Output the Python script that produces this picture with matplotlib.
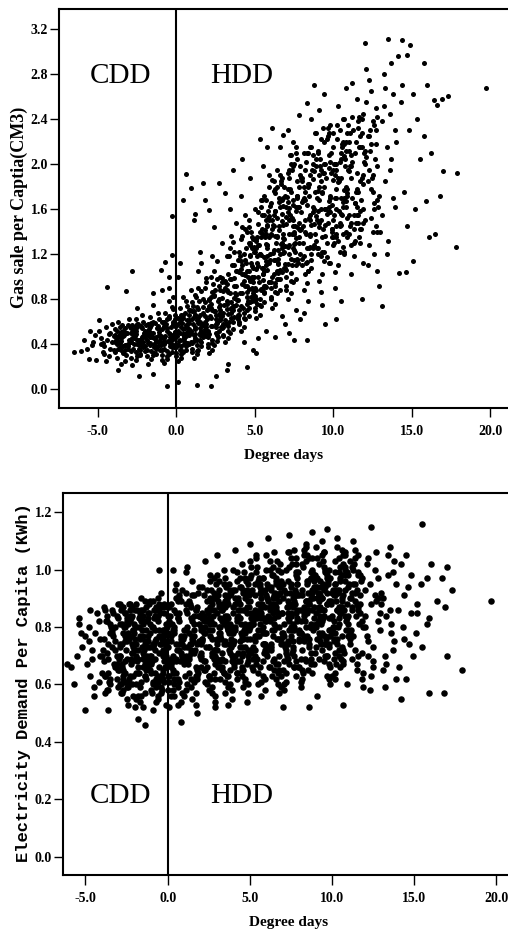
import sys
import matplotlib
matplotlib.use("Agg")
import matplotlib.pyplot as plt

# ---------------- data: gas sale per capita vs degree days ----------------
gas_x = [
    -6.5,-6.1,-5.9,-5.5,-5.4,-5.6,-5.1,-5.2,-5.7,-5.3,
    -4.9,-4.4,-4.8,-4.6,-4.2,-4.1,-4.7,-4.5,-4.3,-4.0,
    -4.8,-4.6,-4.4,-4.2,-4.9,-4.1,-4.5,-4.3,-4.7,-4.0,
    -3.7,-3.2,-3.9,-3.5,-3.1,-3.8,-3.4,-3.6,-3.3,-3.0,
    -3.9,-3.7,-3.5,-3.2,-3.8,-3.4,-3.1,-3.6,-3.3,-3.9,
    -3.5,-3.2,-3.7,-3.0,-3.4,-3.8,-3.1,-3.6,-3.3,-3.5,
    -2.8,-2.4,-2.9,-2.5,-2.1,-2.7,-2.3,-2.6,-2.2,-2.0,
    -2.9,-2.7,-2.5,-2.3,-2.1,-2.8,-2.6,-2.4,-2.2,-2.0,
    -2.9,-2.6,-2.3,-2.8,-2.5,-2.2,-2.7,-2.4,-2.1,-2.0,
    -2.8,-2.6,-2.4,-2.2,-2.9,-2.7,-2.5,-2.3,-2.1,-2.6,
    -1.5,-1.5,-1.9,-1.6,-1.2,-1.8,-1.4,-1.7,-1.3,-1.1,
    -1.9,-1.7,-1.5,-1.3,-1.1,-1.8,-1.6,-1.4,-1.2,-1.0,
    -1.9,-1.6,-1.3,-1.8,-1.5,-1.2,-1.7,-1.4,-1.1,-1.0,
    -1.8,-1.6,-1.4,-1.2,-1.9,-1.7,-1.5,-1.3,-1.1,-1.6,
    -0.6,-0.9,-0.3,-0.7,-0.3,-1.0,-0.5,-0.5,-0.8,-0.2,
    -0.9,-0.7,-0.5,-0.3,-0.1,-0.8,-0.6,-0.4,-0.2,-0.0,
    -0.9,-0.6,-0.3,-0.8,-0.5,-0.2,-0.7,-0.4,-0.1,-0.0,
    -0.8,-0.6,-0.4,-0.2,-0.9,-0.7,-0.5,-0.3,-0.1,-0.6,
    -0.9,-0.5,-0.2,-0.7,-0.4,-0.1,-0.8,-0.3,-0.6,-0.2,
    0.1,0.6,0.4,0.9,0.2,0.1,0.5,0.3,0.7,0.8,
    0.0,0.2,0.4,0.6,0.8,0.1,0.3,0.5,0.7,0.9,
    0.0,0.3,0.6,0.1,0.4,0.7,0.2,0.5,0.8,0.9,
    0.1,0.3,0.5,0.7,0.0,0.2,0.4,0.6,0.8,0.3,
    0.0,0.4,0.7,0.2,0.5,0.8,0.1,0.6,0.3,0.9,
    1.3,1.2,1.7,1.8,1.1,1.5,1.4,1.9,1.6,1.2,
    1.0,1.2,1.4,1.6,1.8,1.1,1.3,1.5,1.7,1.9,
    1.0,1.3,1.6,1.1,1.4,1.7,1.2,1.5,1.8,1.9,
    1.1,1.3,1.5,1.7,1.0,1.2,1.4,1.6,1.8,1.3,
    1.0,1.4,1.7,1.2,1.5,1.8,1.1,1.6,1.3,1.9,
    2.2,2.1,2.7,2.4,2.5,2.9,2.3,2.6,2.8,2.0,
    2.0,2.2,2.4,2.6,2.8,2.1,2.3,2.5,2.7,2.9,
    2.0,2.3,2.6,2.1,2.4,2.7,2.2,2.5,2.8,2.9,
    2.1,2.3,2.5,2.7,2.0,2.2,2.4,2.6,2.8,2.3,
    2.0,2.4,2.7,2.2,2.5,2.8,2.1,2.6,2.3,2.9,
    3.2,3.1,3.6,3.4,3.8,3.3,3.5,3.7,3.9,3.0,
    3.0,3.2,3.4,3.6,3.8,3.1,3.3,3.5,3.7,3.9,
    3.0,3.3,3.6,3.1,3.4,3.7,3.2,3.5,3.8,3.9,
    3.1,3.3,3.5,3.7,3.0,3.2,3.4,3.6,3.8,3.3,
    3.0,3.4,3.7,3.2,3.5,3.8,3.1,3.6,3.3,3.9,
    4.5,4.2,4.7,4.1,4.9,4.4,4.6,4.3,4.8,4.0,
    4.0,4.2,4.4,4.6,4.8,4.1,4.3,4.5,4.7,4.9,
    4.0,4.3,4.6,4.1,4.4,4.7,4.2,4.5,4.8,4.9,
    4.1,4.3,4.5,4.7,4.0,4.2,4.4,4.6,4.8,4.3,
    4.0,4.4,4.7,4.2,4.5,4.8,4.1,4.6,4.3,4.9,
    5.1,5.3,5.8,5.5,5.2,5.9,5.4,5.7,5.6,5.0,
    5.0,5.2,5.4,5.6,5.8,5.1,5.3,5.5,5.7,5.9,
    5.0,5.3,5.6,5.1,5.4,5.7,5.2,5.5,5.8,5.9,
    5.1,5.3,5.5,5.7,5.0,5.2,5.4,5.6,5.8,5.3,
    5.0,5.4,5.7,5.2,5.5,5.8,5.1,5.6,5.3,5.9,
    6.3,6.8,6.6,6.1,6.4,6.9,6.2,6.7,6.5,6.0,
    6.0,6.2,6.4,6.6,6.8,6.1,6.3,6.5,6.7,6.9,
    6.0,6.3,6.6,6.1,6.4,6.7,6.2,6.5,6.8,6.9,
    6.1,6.3,6.5,6.7,6.0,6.2,6.4,6.6,6.8,6.3,
    6.0,6.4,6.7,6.2,6.5,6.8,6.1,6.6,6.3,6.9,
    7.2,7.5,7.8,7.1,7.4,7.9,7.3,7.6,7.7,7.0,
    7.0,7.2,7.4,7.6,7.8,7.1,7.3,7.5,7.7,7.9,
    7.0,7.3,7.6,7.1,7.4,7.7,7.2,7.5,7.8,7.9,
    7.1,7.3,7.5,7.7,7.0,7.2,7.4,7.6,7.8,7.3,
    7.0,7.4,7.7,7.2,7.5,7.8,7.1,7.6,7.3,7.9,
    8.3,8.8,8.3,8.6,8.1,8.9,8.4,8.7,8.2,8.5,
    8.0,8.2,8.4,8.6,8.8,8.1,8.3,8.5,8.7,8.9,
    8.0,8.3,8.6,8.1,8.4,8.7,8.2,8.5,8.8,8.9,
    8.1,8.3,8.5,8.7,8.0,8.2,8.4,8.6,8.8,8.5,
    9.4,9.5,9.1,9.8,9.3,9.6,9.2,9.9,9.7,9.0,
    9.0,9.2,9.4,9.6,9.8,9.1,9.3,9.5,9.7,9.9,
    9.0,9.3,9.6,9.1,9.4,9.7,9.2,9.5,9.8,9.9,
    9.1,9.3,9.5,9.7,9.0,9.2,9.4,9.6,9.8,9.5,
    10.2,10.5,10.8,10.3,10.6,10.1,10.9,10.4,10.7,10.0,
    10.0,10.2,10.4,10.6,10.8,10.1,10.3,10.5,10.7,10.9,
    10.0,10.3,10.6,10.1,10.4,10.7,10.2,10.5,10.8,10.9,
    10.1,10.3,10.5,10.7,10.0,10.2,10.4,10.6,10.8,10.5,
    11.8,12.0,11.2,11.5,11.9,11.1,11.6,11.3,11.7,11.0,
    11.0,11.2,11.4,11.6,11.8,11.1,11.3,11.5,11.7,11.9,
    11.0,11.3,11.6,11.1,11.4,11.7,11.2,11.5,11.8,11.9,
    12.1,12.4,12.7,12.2,12.5,12.8,12.3,12.6,12.9,12.0,
    12.0,12.2,12.4,12.6,12.8,12.1,12.3,12.5,12.7,12.9,
    12.3,12.6,12.1,12.8,12.4,
    13.1,13.5,13.2,13.8,13.4,13.6,13.1,13.9,13.3,13.7,
    13.0,13.4,13.8,13.2,13.6,13.5,13.3,13.9,13.1,13.7,
    14.4,14.9,14.7,14.1,14.6,14.2,14.3,14.8,14.5,14.0,14.7,14.4,
    15.8,16.0,16.4,16.6,16.9,17.3,17.9,17.0,16.8,17.8,
    15.9,16.5,16.1,15.1,19.7,15.3,15.5,15.2,15.8,16.2,15.1,
]
gas_y = [
    .33,.34,.44,.52,.39,.27,.26,.48,.36,.42,
    .61,.91,.45,.38,.50,.42,.33,.55,.29,.47,
    .40,.31,.44,.36,.52,.58,.25,.49,.41,.35,
    .17,.87,.42,.51,.36,.28,.47,.55,.39,.44,
    .33,.60,.45,.30,.52,.38,.57,.41,.25,.48,
    .35,.50,.43,.62,.32,.46,.40,.37,.54,.22,
    1.05,.12,.42,.55,.37,.48,.31,.62,.45,.52,
    .28,.40,.58,.35,.47,.51,.26,.43,.66,.38,
    .50,.33,.44,.57,.29,.41,.53,.36,.60,.46,
    .21,.49,.39,.54,.34,.45,.72,.30,.42,.56,
    .13,.85,.44,.57,.38,.49,.32,.64,.46,.53,
    .29,.41,.60,.36,.48,.52,.27,.45,.68,.39,
    .51,.34,.43,.58,.30,.42,.55,.37,.62,.47,
    .22,.50,.40,.56,.35,.46,.75,.31,.43,.59,
    .03,.88,1.54,1.13,1.19,1.06,1.00,.90,.45,.60,
    .30,.42,.63,.37,.51,.55,.27,.46,.71,.40,
    .53,.34,.44,.60,.31,.48,.57,.38,.66,.49,
    .23,.52,.41,.58,.35,.47,.78,.33,.45,.62,
    .26,.50,.39,.68,.43,.56,.36,.73,.29,.82,
    .06,1.91,1.68,1.79,1.12,1.00,.47,.62,.55,.40,
    .32,.44,.66,.38,.53,.58,.28,.49,.74,.42,
    .56,.35,.47,.63,.33,.51,.60,.40,.70,.52,
    .25,.55,.43,.61,.37,.50,.82,.35,.48,.66,
    .29,.53,.41,.72,.45,.59,.39,.78,.31,.88,
    .04,1.56,1.83,1.68,1.50,1.22,1.05,.95,.58,.45,
    .36,.49,.71,.42,.60,.64,.31,.54,.80,.47,
    .62,.39,.52,.69,.35,.57,.66,.44,.77,.58,
    .28,.61,.48,.68,.41,.55,.90,.38,.53,.73,
    .33,.59,.46,.84,.50,.65,.43,1.12,.34,.99,
    .03,1.59,1.83,1.44,.12,1.30,1.18,.98,.70,.52,
    .40,.56,.83,.48,.68,.74,.35,.62,.92,.54,
    .71,.44,.60,.79,.39,.66,.76,.50,.88,.65,
    .32,.70,.55,.80,.46,.63,1.05,.43,.61,.86,
    .37,.69,.52,1.00,.58,.75,.49,1.14,.41,.95,
    .17,1.74,1.95,1.60,1.48,.22,1.36,1.22,.62,.48,
    .55,.71,.98,.60,.84,.90,.45,.77,1.10,.66,
    .87,.56,.74,.96,.50,.81,.93,.63,1.05,.79,
    .42,.86,.68,.99,.58,.78,1.25,.53,.75,1.02,
    .47,.85,.64,1.18,.72,.92,.61,1.31,.52,1.15,
    .20,2.05,1.88,1.72,.35,1.55,1.44,.42,.78,.60,
    .66,.85,1.15,.72,1.00,1.07,.55,.92,1.30,.80,
    1.04,.68,.89,1.14,.62,.97,1.10,.76,1.25,.95,
    .52,1.02,.82,1.18,.70,.93,1.42,.65,.90,1.20,
    .58,1.01,.77,1.36,.86,1.09,.74,1.50,.63,1.33,
    .32,2.22,2.15,1.98,.45,1.80,1.68,.52,.92,.72,
    .78,1.00,1.35,.85,1.18,1.25,.66,1.08,1.50,.95,
    1.22,.80,1.05,1.33,.74,1.14,1.28,.90,1.46,1.12,
    .63,1.20,.97,1.38,.83,1.09,1.62,.77,1.06,1.40,
    .69,1.19,.91,1.57,1.02,1.28,.88,1.72,.75,1.54,
    .46,2.26,2.15,2.32,1.95,.58,1.85,.65,1.05,.82,
    .90,1.15,1.52,.98,1.34,1.42,.76,1.24,1.68,1.08,
    1.38,.92,1.20,1.50,.85,1.30,1.45,1.03,1.63,1.27,
    .72,1.36,1.11,1.56,.95,1.24,1.80,.88,1.21,1.58,
    .80,1.35,1.04,1.76,1.16,1.46,1.00,1.90,.86,1.72,
    .50,.44,2.44,2.30,2.20,.62,2.08,.70,1.15,.92,
    1.00,1.28,1.68,1.10,1.48,1.57,.85,1.38,1.85,1.20,
    1.53,1.03,1.34,1.66,.95,1.44,1.61,1.15,1.80,1.41,
    .80,1.51,1.24,1.72,1.06,1.38,1.98,.98,1.35,1.75,
    .88,1.50,1.16,1.95,1.29,1.62,1.11,2.10,.96,1.90,
    .44,2.70,2.54,2.40,.68,2.28,.78,1.25,1.02,2.15,
    1.10,1.40,1.82,1.20,1.60,1.70,.94,1.50,2.00,1.32,
    1.66,1.13,1.46,1.80,1.05,1.57,1.75,1.26,1.94,1.54,
    .88,1.64,1.36,1.87,1.16,1.50,2.10,1.08,1.47,1.90,
    2.62,.58,2.48,2.35,.75,2.22,.86,1.35,1.12,2.10,
    1.20,1.50,1.92,1.30,1.70,1.80,1.02,1.60,2.08,1.42,
    1.76,1.22,1.56,1.90,1.14,1.67,1.85,1.36,2.02,1.64,
    .96,1.74,1.46,1.97,1.25,1.60,2.20,1.17,1.57,2.00,
    .62,.78,2.68,2.52,2.40,.90,2.28,1.45,1.20,2.15,
    1.28,1.60,2.02,1.38,1.80,1.90,1.10,1.70,2.18,1.52,
    1.86,1.32,1.66,2.00,1.22,1.77,1.95,1.46,2.12,1.74,
    1.04,1.84,1.56,2.07,1.35,1.70,2.30,1.26,1.67,2.10,
    .80,3.08,2.72,2.58,2.45,1.02,2.32,1.55,1.30,2.20,
    1.38,1.70,2.10,1.48,1.88,1.98,1.18,1.78,2.25,1.60,
    1.94,1.42,1.75,2.08,1.32,1.85,2.02,1.55,2.15,1.12,
    2.85,2.65,2.50,1.10,2.38,1.40,2.25,1.65,.92,2.12,
    1.50,1.85,2.18,1.60,1.98,2.06,1.28,1.90,2.30,1.72,
    2.75,1.20,2.55,1.05,1.78,
    .74,3.11,2.80,2.62,1.20,2.45,1.55,2.30,1.85,2.05,
    1.40,2.15,1.70,2.52,1.95,1.32,2.68,1.62,2.38,2.90,
    3.10,3.06,2.97,2.96,1.04,1.03,2.55,2.30,1.75,2.20,1.45,2.70,
    2.90,2.70,2.57,2.53,2.58,2.61,1.92,1.94,1.72,1.26,
    1.67,1.38,1.35,1.14,2.68,2.40,2.05,1.60,2.25,2.10,2.62,
]

# extra points read from the darkest part of the gas cloud
gas_core_x = [
    -3.86,-3.41,-3.08,-2.62,-2.27,-1.83,-1.49,-1.02,-0.68,-0.23,
    -3.72,-3.33,-2.97,-2.51,-2.18,-1.76,-1.31,-0.94,-0.52,-0.12,
    -3.61,-3.22,-2.83,-2.44,-2.03,-1.67,-1.22,-0.87,-0.41,-0.06,
    -3.93,-3.52,-3.17,-2.78,-2.36,-1.94,-1.58,-1.13,-0.77,-0.33,
    -3.79,-3.46,-2.91,-2.57,-2.21,-1.88,-1.38,-0.99,-0.61,-0.18,
    -3.66,-3.28,-2.88,-2.48,-2.09,-1.71,-1.27,-0.81,-0.47,-0.09,
    0.12,0.47,0.83,1.14,1.52,1.88,2.21,2.57,2.93,3.28,
    3.66,0.28,0.61,0.97,1.33,1.69,2.04,2.41,2.76,3.12,
    3.47,3.84,0.07,0.39,0.74,1.08,1.43,1.79,2.15,2.49,
    2.86,3.21,3.57,3.92,0.21,0.56,0.91,1.26,1.61,1.97,
    2.32,2.68,3.03,3.38,3.73,0.34,0.69,1.03,1.38,1.74,
    2.09,2.44,2.81,3.16,3.51,3.87,0.16,0.52,0.88,1.21,
    1.57,1.92,2.27,2.63,2.98,3.33,3.69,0.43,0.78,1.17,
    1.48,1.83,2.19,2.53,2.89,3.24,3.61,3.96,1.01,2.72,
    4.08,4.43,4.79,5.12,5.48,5.84,6.17,6.52,6.88,7.23,
    7.58,7.91,4.21,4.56,4.92,5.27,5.63,5.96,6.31,6.67,
    7.02,7.37,7.72,4.03,4.38,4.74,5.09,5.44,5.78,6.13,
    6.49,6.84,7.18,7.53,7.88,4.27,4.62,4.97,5.33,5.68,
    6.02,6.38,6.73,7.08,7.43,7.79,4.14,4.49,4.86,5.21,
    5.56,5.91,6.26,6.61,6.96,7.31,7.66,7.97,4.33,4.68,
    5.04,5.39,5.74,6.08,6.43,6.79,7.14,7.49,7.84,4.18,
    4.53,4.89,5.24,5.59,5.94,6.29,6.64,6.99,7.34,7.69,
    4.41,4.77,5.16,5.52,5.87,6.22,6.57,6.92,7.27,7.62,
    8.07,8.42,8.78,9.13,9.49,9.84,10.18,10.53,10.89,11.24,
    11.58,11.93,8.21,8.57,8.92,9.27,9.63,9.98,10.33,10.68,
    11.03,11.38,11.73,8.14,8.48,8.84,9.19,9.55,9.91,10.26,
    10.61,10.96,11.31,11.66,8.33,8.69,9.04,9.38,9.74,10.09,
    10.44,10.79,11.14,11.49,11.84,8.02,8.38,8.73,9.08,9.43,
    9.79,10.14,10.49,10.84,11.19,11.54,11.88,8.26,8.63,8.97,
    9.33,9.68,10.03,10.39,10.74,11.09,11.44,11.79,9.22,10.58,
]
gas_core_y = [
    .44,.52,.38,.47,.56,.41,.50,.35,.58,.45,
    .36,.48,.55,.40,.46,.53,.37,.60,.43,.51,
    .49,.39,.45,.58,.34,.47,.54,.42,.49,.62,
    .53,.43,.50,.36,.44,.57,.46,.51,.40,.55,
    .40,.57,.42,.52,.38,.49,.59,.45,.54,.37,
    .47,.35,.54,.44,.50,.39,.43,.56,.65,.46,
    .52,.45,.61,.48,.66,.55,.72,.59,.81,.67,
    .92,.38,.57,.69,.44,.73,.51,.84,.62,.95,
    .71,1.05,.47,.63,.40,.58,.78,.49,.65,.88,
    .55,.76,1.10,.64,.35,.68,.50,.82,.57,.70,
    .93,.46,.75,.60,.85,.59,.41,.74,.63,.51,
    .80,.69,1.00,.58,.98,.79,.43,.54,.70,.66,
    .87,.62,.56,.78,.68,1.18,.74,.49,.66,.53,
    .60,.90,.82,.66,.99,.88,.70,1.22,.77,.73,
    .85,1.12,.96,1.35,1.08,1.52,1.21,1.66,1.33,1.78,
    1.45,1.88,1.02,.78,1.26,.95,1.41,1.15,1.58,1.29,
    1.71,1.38,1.62,1.18,.92,1.40,1.07,1.55,1.25,1.46,
    1.12,1.80,1.50,1.22,1.98,.72,1.30,1.00,1.20,1.68,
    1.37,.98,1.49,1.92,1.64,1.30,1.33,1.05,.88,1.47,
    1.17,1.35,1.74,1.06,1.62,1.16,2.05,1.57,.96,1.19,
    1.60,.89,1.29,1.86,1.36,1.70,1.26,2.00,1.42,1.44,
    .70,1.08,1.28,.86,1.63,.94,1.85,1.47,1.10,1.72,
    1.25,.82,1.12,1.38,1.90,1.02,1.41,1.11,1.55,2.15,
    1.45,1.82,1.28,2.05,1.60,1.92,1.38,2.18,1.72,2.30,
    1.55,2.02,1.68,1.15,1.98,1.35,2.25,1.50,1.85,1.22,
    2.12,1.65,1.42,2.10,1.52,1.75,1.18,1.88,1.40,2.35,
    1.62,1.95,1.30,2.15,1.25,2.08,1.58,1.80,2.28,1.70,
    1.48,2.20,1.88,1.62,2.40,1.88,1.05,1.62,1.44,2.00,
    1.12,1.78,2.05,1.35,2.42,1.75,1.90,1.38,1.95,1.70,
    2.32,1.48,2.00,1.58,1.98,1.45,2.20,1.68,1.95,1.55,
]

# more points from the broad HDD part of the gas cloud (x 4.5..13)
gas_band_x = [
    4.62,5.48,6.31,7.17,8.04,8.88,9.73,10.59,11.44,12.31,
    4.85,5.69,6.55,7.41,8.26,9.11,9.97,10.82,11.68,12.53,
    5.07,5.92,6.78,7.63,8.49,9.35,10.20,11.05,11.91,12.76,
    4.71,5.57,6.42,7.28,8.13,8.99,9.84,10.70,11.55,12.41,
    4.94,5.80,6.65,7.51,8.36,9.22,10.07,10.93,11.78,12.64,
    5.16,6.02,6.87,7.73,8.58,9.44,10.29,11.15,12.00,12.86,
    4.53,5.39,6.24,7.10,7.95,8.81,9.66,10.52,11.37,12.23,
    4.77,5.63,6.48,7.34,8.19,9.05,9.90,10.76,11.61,12.47,
    5.01,5.86,6.72,7.57,8.43,9.28,10.14,10.99,11.85,12.70,
    4.66,5.52,6.37,7.23,8.08,8.94,9.79,10.65,11.50,12.36,
    4.89,5.75,6.60,7.46,8.31,9.17,10.02,10.88,11.73,12.59,
    5.12,5.97,6.83,7.68,8.54,9.39,10.25,11.10,11.96,12.81,
    4.58,5.44,6.29,7.15,8.00,8.86,9.71,10.57,11.42,12.28,
    4.82,5.67,6.53,7.38,8.24,9.09,9.95,10.80,11.66,12.51,
    5.05,5.91,6.76,7.62,8.47,9.33,10.18,11.04,11.89,12.75,
]
gas_band_y = [
    1.05,1.42,1.15,1.88,1.30,2.05,1.62,2.20,1.48,2.30,
    .82,1.10,1.70,1.25,2.02,1.48,2.28,1.40,2.15,1.75,
    1.32,.95,1.38,1.62,1.55,1.92,1.35,1.98,1.82,2.42,
    .96,1.55,1.05,2.00,1.18,1.25,2.10,1.70,2.38,1.52,
    1.22,1.28,1.82,1.40,1.80,2.22,1.55,2.35,1.42,2.05,
    .76,1.65,1.22,1.12,2.15,1.60,1.88,1.28,2.00,1.62,
    1.40,.88,1.55,1.78,1.42,1.38,2.32,1.88,1.65,2.25,
    1.12,1.35,.98,1.52,1.95,2.12,1.42,2.05,1.35,1.88,
    .90,1.58,1.88,1.30,1.25,1.75,2.00,1.55,2.28,1.45,
    1.28,1.02,1.30,2.08,1.68,1.50,1.72,2.40,1.92,2.12,
    .85,1.45,1.62,1.45,2.10,1.98,1.30,1.78,1.58,2.35,
    1.18,1.20,1.08,1.70,1.38,1.22,2.22,1.48,2.10,1.68,
    1.00,1.68,1.78,1.20,1.85,2.28,1.58,2.15,1.75,1.95,
    1.35,.92,1.45,1.95,1.12,1.68,1.95,1.62,2.42,1.40,
    .80,1.50,1.25,1.58,1.72,1.42,1.45,2.28,1.48,2.18,
]

# ---------------- data: electricity demand per capita vs degree days ----------------
elec_x = [
    -6.1,-5.5,-5.4,-5.0,-5.4,-5.3,-5.0,-5.7,-5.2,-5.9,
    -4.7,-4.9,-4.7,-4.5,-4.5,-4.2,-4.8,-4.1,-4.4,-4.6,-4.3,-4.0,-4.8,-4.2,-4.6,-4.1,
    -3.6,-3.9,-3.5,-3.1,-3.8,-3.4,-3.7,-3.2,-3.0,-3.6,
    -3.9,-3.7,-3.5,-3.3,-3.1,-3.8,-3.6,-3.4,-3.2,-3.0,
    -3.9,-3.6,-3.3,-3.8,-3.5,-3.2,-3.7,-3.4,-3.1,-3.0,
    -2.9,-2.7,-2.5,-2.3,-2.1,-2.8,-2.6,-2.4,-2.2,-2.0,
    -2.9,-2.6,-2.3,-2.8,-2.5,-2.2,-2.7,-2.4,-2.1,-2.0,
    -2.8,-2.6,-2.4,-2.2,-2.9,-2.7,-2.5,-2.3,-2.1,-2.6,
    -2.9,-2.5,-2.2,-2.7,-2.4,-2.1,-2.8,-2.3,-2.6,-2.0,
    -1.4,-1.8,-1.5,-1.9,-1.1,-1.6,-1.3,-1.7,-1.2,-1.0,
    -1.9,-1.7,-1.5,-1.3,-1.1,-1.8,-1.6,-1.4,-1.2,-1.0,
    -1.9,-1.6,-1.3,-1.8,-1.5,-1.2,-1.7,-1.4,-1.1,-1.0,
    -1.8,-1.6,-1.4,-1.2,-1.9,-1.7,-1.5,-1.3,-1.1,-1.6,
    -1.9,-1.5,-1.2,-1.7,-1.4,
    -0.5,-0.4,-0.9,-0.6,-0.2,-0.8,-0.3,-0.7,-0.1,-0.0,
    -0.9,-0.7,-0.5,-0.3,-0.1,-0.8,-0.6,-0.4,-0.2,-0.0,
    -0.9,-0.6,-0.3,-0.8,-0.5,-0.2,-0.7,-0.4,-0.1,-0.0,
    -0.8,-0.6,-0.4,-0.2,-0.9,-0.7,-0.5,-0.3,-0.1,-0.6,
    -0.9,-0.5,-0.2,-0.7,-0.4,-0.1,-0.8,-0.3,-0.6,-0.2,
    0.8,0.3,0.5,0.1,0.7,0.2,0.9,0.4,0.6,0.0,
    0.0,0.2,0.4,0.6,0.8,0.1,0.3,0.5,0.7,0.9,
    0.0,0.3,0.6,0.1,0.4,0.7,0.2,0.5,0.8,0.9,
    0.1,0.3,0.5,0.7,0.0,0.2,0.4,0.6,0.8,0.3,
    0.0,0.4,0.7,0.2,0.5,0.8,0.1,0.6,0.3,0.9,
    1.2,1.5,1.8,1.1,1.7,1.3,1.9,1.4,1.6,1.0,
    1.0,1.2,1.4,1.6,1.8,1.1,1.3,1.5,1.7,1.9,
    1.0,1.3,1.6,1.1,1.4,1.7,1.2,1.5,1.8,1.9,
    1.1,1.3,1.5,1.7,1.0,1.2,1.4,1.6,1.8,1.3,
    1.0,1.4,1.7,1.2,1.5,1.8,1.1,1.6,1.3,1.9,
    2.3,2.6,2.9,2.1,2.5,2.8,2.2,2.4,2.7,2.0,
    2.1,2.3,2.5,2.7,2.9,2.0,2.2,2.4,2.6,2.8,
    2.2,2.5,2.8,2.0,2.3,2.6,2.9,2.1,2.4,2.7,
    2.0,2.4,2.8,2.2,2.6,2.1,2.5,2.9,2.3,2.7,
    2.1,2.4,2.7,2.0,2.3,2.6,2.9,2.2,2.5,2.8,
    3.0,3.4,3.7,3.1,3.5,3.8,3.2,3.6,3.9,3.3,
    3.0,3.2,3.4,3.6,3.8,3.1,3.3,3.5,3.7,3.9,
    3.1,3.4,3.7,3.0,3.3,3.6,3.9,3.2,3.5,3.8,
    3.0,3.4,3.8,3.2,3.6,3.1,3.5,3.9,3.3,3.7,
    3.2,3.5,3.8,3.0,3.3,3.6,3.9,3.1,3.4,3.7,
    4.1,4.5,4.8,4.2,4.6,4.9,4.0,4.3,4.7,4.4,
    4.0,4.2,4.4,4.6,4.8,4.1,4.3,4.5,4.7,4.9,
    4.2,4.5,4.8,4.0,4.3,4.6,4.9,4.1,4.4,4.7,
    4.0,4.4,4.8,4.2,4.6,4.1,4.5,4.9,4.3,4.7,
    4.1,4.4,4.7,4.0,4.3,4.6,4.9,4.2,4.5,4.8,
    5.0,5.4,5.7,5.1,5.5,5.8,5.2,5.6,5.9,5.3,
    5.0,5.2,5.4,5.6,5.8,5.1,5.3,5.5,5.7,5.9,
    5.1,5.4,5.7,5.0,5.3,5.6,5.9,5.2,5.5,5.8,
    5.0,5.4,5.8,5.2,5.6,5.1,5.5,5.9,5.3,5.7,
    5.2,5.5,5.8,5.0,5.3,5.6,5.9,5.1,5.4,5.7,
    6.1,6.5,6.8,6.2,6.6,6.9,6.0,6.3,6.7,6.4,
    6.0,6.2,6.4,6.6,6.8,6.1,6.3,6.5,6.7,6.9,
    6.2,6.5,6.8,6.0,6.3,6.6,6.9,6.1,6.4,6.7,
    6.0,6.4,6.8,6.2,6.6,6.1,6.5,6.9,6.3,6.7,
    6.1,6.4,6.7,6.0,6.3,6.6,6.9,6.2,6.5,6.8,
    7.0,7.4,7.7,7.1,7.5,7.8,7.2,7.6,7.9,7.3,
    7.0,7.2,7.4,7.6,7.8,7.1,7.3,7.5,7.7,7.9,
    7.1,7.4,7.7,7.0,7.3,7.6,7.9,7.2,7.5,7.8,
    7.0,7.4,7.8,7.2,7.6,7.1,7.5,7.9,7.3,7.7,
    7.2,7.5,7.8,7.0,7.3,7.6,7.9,7.1,7.4,7.7,
    8.6,8.8,8.4,8.1,8.5,8.8,8.2,8.6,8.9,8.3,
    8.0,8.2,8.4,8.6,8.8,8.1,8.3,8.5,8.7,8.9,
    8.1,8.4,8.7,8.0,8.3,8.6,8.9,8.2,8.5,8.8,
    8.0,8.4,8.8,8.2,8.6,8.1,8.5,8.9,8.3,8.7,
    8.2,8.5,8.8,8.0,8.3,8.6,8.9,8.1,8.4,8.7,
    9.7,9.4,9.1,9.5,9.8,9.2,9.6,9.9,9.3,9.0,
    9.0,9.2,9.4,9.6,9.8,9.1,9.3,9.5,9.7,9.9,
    9.1,9.4,9.7,9.0,9.3,9.6,9.9,9.2,9.5,9.8,
    9.0,9.4,9.8,9.2,9.6,9.1,9.5,9.9,9.3,9.7,
    9.2,9.5,9.8,9.0,9.3,9.6,9.9,9.1,9.4,9.7,
    10.7,10.3,10.6,10.9,10.2,10.5,10.8,10.1,10.4,10.0,
    10.0,10.2,10.4,10.6,10.8,10.1,10.3,10.5,10.7,10.9,
    10.1,10.4,10.7,10.0,10.3,10.6,10.9,10.2,10.5,10.8,
    10.0,10.4,10.8,10.2,10.6,10.1,10.5,10.9,10.3,10.7,
    10.2,10.5,10.8,10.0,10.3,
    11.3,11.6,11.9,11.2,11.5,11.8,11.1,11.4,11.7,11.0,
    11.0,11.2,11.4,11.6,11.8,11.1,11.3,11.5,11.7,11.9,
    11.1,11.4,11.7,11.0,11.3,11.6,11.9,11.2,11.5,11.8,
    11.0,11.4,11.8,11.2,11.6,
    12.4,12.3,12.7,12.1,12.5,12.8,12.2,12.6,12.9,12.0,
    12.0,12.2,12.4,12.6,12.8,12.1,12.3,12.5,12.7,12.9,
    12.2,12.5,12.8,12.0,12.4,
    13.2,13.5,13.8,13.1,13.4,13.7,13.0,13.3,13.6,13.9,
    13.0,13.2,13.4,13.6,13.8,13.1,13.3,13.5,13.7,13.9,
    14.2,14.5,14.8,14.1,14.4,14.7,14.0,14.3,14.6,14.9,14.2,14.5,14.8,14.4,
    15.5,19.7,17.9,15.9,16.8,17.0,17.3,16.4,16.9,16.7,
    16.0,17.0,15.9,15.8,15.2,15.2,15.5,15.8,15.4,15.1,
]
elec_y = [
    .67,.70,.83,.51,.81,.78,.77,.60,.73,.66,
    .86,.67,.63,.59,.56,.82,.75,.70,.78,.72,.85,.64,.80,.61,.69,.76,
    .51,.87,.62,.84,.57,.79,.71,.66,.88,.74,
    .68,.82,.60,.77,.70,.86,.64,.73,.80,.59,
    .76,.69,.85,.63,.81,.72,.58,.78,.67,.83,
    .88,.62,.55,.84,.73,.67,.80,.59,.77,.86,
    .70,.64,.82,.57,.75,.68,.87,.61,.79,.72,
    .66,.85,.53,.74,.81,.58,.69,.88,.63,.77,
    .60,.83,.71,.65,.78,.56,.74,.86,.68,.52,
    .46,.48,.52,.55,.89,.86,.62,.84,.73,.67,
    .80,.59,.77,.87,.70,.64,.82,.57,.75,.68,
    .88,.61,.79,.72,.66,.85,.54,.74,.81,.58,
    .69,.90,.63,.77,.60,.83,.71,.65,.78,.56,
    .74,.86,.68,.76,.63,
    1.00,.92,.51,.55,.88,.86,.62,.84,.73,.67,
    .80,.59,.77,.87,.70,.64,.82,.57,.75,.68,
    .89,.61,.79,.72,.66,.85,.54,.74,.81,.58,
    .69,.90,.63,.77,.60,.83,.71,.65,.78,.56,
    .74,.86,.68,.76,.63,.53,.79,.70,.84,.61,
    .47,1.00,.95,.52,.91,.56,.93,.86,.62,.84,
    .73,.67,.80,.59,.77,.87,.70,.64,.82,.57,
    .75,.68,.89,.61,.79,.72,.66,.85,.54,.74,
    .81,.58,.69,.90,.63,.77,.60,.83,.71,.65,
    .78,.56,.74,.88,.68,.76,.63,.53,.79,.70,
    1.01,.96,.50,.92,.53,.89,.94,.62,.84,.73,
    .67,.80,.59,.77,.87,.70,.64,.82,.57,.75,
    .68,.88,.61,.79,.72,.66,.85,.55,.74,.81,
    .58,.69,.91,.63,.77,.60,.83,.71,.65,.78,
    .56,.74,.86,.68,.76,.63,.99,.79,.70,.84,
    1.03,.98,.52,.94,.58,.90,.65,.86,.76,.70,
    .83,.61,.79,.88,.72,.66,.84,.60,.77,.69,
    .91,.63,.81,.74,.68,.87,.56,.75,.82,.59,
    .71,.93,.64,.78,.62,.85,.73,.67,.80,.57,
    .76,.89,.70,.79,.65,.96,.54,.82,.73,.86,
    1.05,1.00,.53,.96,.57,.92,.66,.88,.78,.71,
    .85,.62,.81,.90,.74,.68,.86,.61,.79,.70,
    .93,.64,.83,.76,.69,.89,.58,.77,.84,.60,
    .72,.95,.65,.80,.63,.87,.75,.68,.82,.59,
    .78,.91,.71,.98,.66,.84,.55,.80,.74,.88,
    1.07,1.02,.54,.99,.59,.95,.68,.90,.80,.73,
    .87,.64,.83,.93,.76,.70,.89,.63,.81,.72,
    .96,.66,.85,.78,.71,.92,.60,.79,.86,.62,
    .74,.97,.67,.82,.65,.90,.77,.70,.84,.61,
    .80,.94,.73,1.00,.68,.86,.57,.83,.76,.91,
    1.09,1.04,.56,1.01,.60,.97,.69,.92,.82,.75,
    .89,.65,.85,.95,.78,.71,.91,.64,.83,.74,
    .98,.67,.87,.80,.72,.94,.62,.81,.88,.63,
    .76,.99,.68,.84,.66,.92,.79,.72,.86,.61,
    .82,.96,.74,1.03,.70,.88,.58,.85,.77,.93,
    1.11,1.06,.57,1.03,.62,.99,.71,.94,.84,.77,
    .91,.66,.87,.97,.80,.73,.93,.65,.85,.76,
    1.00,.69,.89,.82,.74,.96,.63,.83,.90,.64,
    .78,1.01,.70,.86,.67,.94,.81,.74,.88,.60,
    .84,.98,.76,1.05,.72,.90,.59,.87,.79,.95,
    .52,1.12,1.07,.58,1.04,.63,1.00,.72,.95,.85,
    .78,.92,.67,.88,.98,.81,.74,.94,.66,.86,
    .77,1.01,.70,.90,.83,.75,.97,.64,.84,.91,
    .65,.79,1.02,.71,.87,.68,.95,.82,.75,.89,
    .61,.85,.99,.77,1.06,.73,.91,.60,.88,.80,
    .52,1.13,1.09,.59,1.05,.64,1.02,.73,.96,.86,
    .79,.93,.68,.89,.99,.82,.75,.95,.67,.87,
    .78,1.03,.71,.91,.84,.76,.98,.65,.85,.92,
    .66,.80,1.04,.72,.88,.69,.96,.83,.76,.90,
    .62,.86,1.00,.78,1.07,.74,.93,.61,.89,.81,
    1.14,1.10,.56,1.06,.62,1.02,.74,.97,.87,.80,
    .94,.69,.90,1.00,.83,.76,.96,.68,.88,.79,
    1.04,.72,.92,.85,.77,.99,.66,.86,.93,.67,
    .81,1.05,.73,.89,.70,.97,.84,.77,.91,.63,
    .87,1.01,.79,1.08,.75,.94,.60,.90,.82,.98,
    .53,1.11,1.07,.60,1.03,.66,.98,.75,.93,.84,
    .78,.95,.70,.90,1.00,.82,.74,.96,.68,.88,
    .80,1.04,.72,.92,.86,.77,.99,.64,.85,.93,
    .63,.81,1.05,.71,.89,.69,.97,.83,.76,.91,
    .62,.87,1.01,.79,1.08,
    1.10,1.05,.59,1.01,.65,.97,.74,.92,.85,.79,
    .94,.69,.89,.99,.82,.76,.95,.67,.88,.80,
    1.03,.72,.91,.84,.77,.98,.64,.86,.93,.62,
    .81,1.07,.71,.87,.70,
    1.15,.58,1.06,1.02,.66,.97,.75,.91,.85,.80,
    .93,.70,.88,1.00,.82,.77,.95,.68,.89,.79,
    1.04,.73,.90,.84,.63,
    .59,1.08,1.03,.65,.98,.72,.92,.84,.78,.95,
    .88,.70,1.05,.81,.75,.90,.67,.86,.99,.62,
    .55,1.05,.98,.66,.91,.74,.86,.80,.94,.70,1.02,.62,.85,.76,
    1.16,.89,.65,.57,.57,.70,.93,.89,.87,.97,
    1.02,1.01,.83,.81,.88,.85,.73,.97,.95,.78,
]

elec_core_x = [
    -2.93,-1.51,-0.12,1.33,2.71,4.12,5.53,6.94,8.36,9.77,
    -2.71,-1.28,0.14,1.55,2.96,4.38,5.79,7.21,8.62,10.04,
    -2.48,-1.06,0.37,1.78,3.19,4.61,6.02,7.44,8.85,10.27,
    -2.26,-0.83,0.59,2.01,3.42,4.84,6.25,7.66,9.08,10.49,
    -2.04,-0.61,0.82,2.23,3.65,5.06,6.48,7.89,9.31,10.72,
    -1.81,-0.39,1.04,2.46,3.87,5.29,6.71,8.12,9.54,10.95,
    -2.86,-1.44,-0.02,1.41,2.83,4.25,5.66,7.08,8.49,9.91,
    -2.63,-1.21,0.22,1.63,3.05,4.47,5.88,7.30,8.72,10.13,
    -2.39,-0.97,0.45,1.87,3.28,4.70,6.12,7.53,8.95,10.37,
    -2.17,-0.75,0.68,2.09,3.51,4.93,6.34,7.76,9.18,10.59,
    -1.94,-0.52,0.91,2.32,3.74,5.16,6.57,7.99,9.41,10.82,
    -1.72,-0.29,1.13,2.55,3.97,5.38,6.80,8.21,9.63,11.04,
    -2.97,-1.57,-0.18,1.24,2.64,4.05,5.46,6.87,8.28,9.69,
    -2.78,-1.35,0.07,1.48,2.89,4.31,5.72,7.14,8.55,9.96,
    -2.55,-1.13,0.30,1.71,3.12,4.54,5.95,7.37,8.78,10.20,
    -2.33,-0.90,0.52,1.94,3.35,4.77,6.18,7.60,9.01,10.43,
    -2.11,-0.68,0.75,2.16,3.58,4.99,6.41,7.82,9.24,10.66,
    -1.88,-0.46,0.97,2.39,3.80,5.22,6.64,8.05,9.47,10.88,
    -1.66,-0.24,1.19,2.61,4.02,5.44,6.86,8.27,9.69,11.10,
    -2.90,-1.47,-0.06,1.37,2.77,4.19,5.60,7.01,8.43,9.84,
    -2.67,-1.24,0.18,1.59,3.01,4.42,5.84,7.25,8.67,10.09,
    -2.44,-1.02,0.41,1.82,3.24,4.65,6.07,7.48,8.90,10.32,
    -2.21,-0.79,0.63,2.05,3.46,4.88,6.29,7.71,9.13,10.54,
    -1.99,-0.57,0.86,2.27,3.69,5.11,6.52,7.94,9.36,10.77,
    -1.77,-0.34,1.09,2.50,3.92,5.33,6.75,8.17,9.58,10.99,
    -2.82,-1.40,0.03,1.44,2.86,4.28,5.69,7.11,8.52,9.94,
    -2.59,-1.17,0.26,1.67,3.09,4.50,5.92,7.34,8.75,10.17,
    -2.36,-0.94,0.49,1.90,3.32,4.73,6.15,7.57,8.98,10.40,
    -2.14,-0.72,0.71,2.12,3.54,4.96,6.38,7.79,9.21,10.62,
    -1.92,-0.49,0.94,2.35,3.77,5.19,6.60,8.02,9.44,10.85,
]
elec_core_y = [
    .74,.81,.66,.88,.71,.93,.77,.85,.69,.96,
    .63,.70,.84,.75,.90,.68,.97,.72,.88,.80,
    .82,.65,.78,.62,.83,.76,.70,.92,.79,.67,
    .69,.86,.72,.80,.64,.87,.82,.66,.94,.85,
    .78,.61,.89,.68,.79,.72,.91,.83,.74,.71,
    .66,.77,.63,.85,.73,.95,.67,.78,.86,.98,
    .86,.72,.80,.71,.92,.62,.84,.93,.77,.89,
    .61,.83,.69,.91,.66,.81,.74,.69,.97,.76,
    .77,.68,.93,.64,.86,.78,.89,.80,.71,.92,
    .84,.75,.61,.79,.68,.91,.63,.88,.82,.73,
    .70,.88,.76,.73,.95,.66,.80,.75,.90,.84,
    .80,.64,.86,.90,.70,.84,.94,.64,.76,.95,
    .65,.79,.71,.67,.82,.75,.69,.96,.87,.70,
    .87,.67,.82,.77,.62,.89,.79,.73,.65,.88,
    .72,.85,.64,.86,.78,.70,.87,.82,.93,.78,
    .62,.73,.90,.70,.88,.80,.66,.90,.73,.99,
    .79,.87,.68,.83,.74,.97,.85,.68,.84,.67,
    .68,.62,.79,.66,.91,.73,.76,.86,.95,.82,
    .85,.78,.73,.89,.67,.83,.92,.77,.70,.90,
    .73,.69,.87,.74,.84,.64,.81,.95,.89,.74,
    .64,.82,.75,.81,.69,.88,.71,.70,.80,.93,
    .81,.70,.62,.92,.76,.79,.95,.84,.67,.86,
    .67,.84,.83,.69,.87,.68,.73,.79,.92,.69,
    .76,.63,.70,.78,.63,.93,.88,.66,.81,.96,
    .83,.76,.88,.63,.80,.77,.65,.91,.74,.77,
    .60,.89,.67,.87,.72,.86,.90,.74,.86,.83,
    .75,.66,.81,.72,.89,.65,.78,.87,.69,.91,
    .88,.80,.74,.84,.65,.90,.83,.71,.98,.72,
    .71,.61,.85,.76,.82,.71,.68,.92,.78,.87,
    .64,.74,.69,.82,.93,.81,.86,.76,.83,.79,
]

# more points from the upper HDD part of the electricity cloud (x 2.5..12)
elec_band_x = [
    2.58,3.53,4.49,5.44,6.39,7.35,8.31,9.26,10.21,11.17,
    2.81,3.77,4.72,5.67,6.63,7.58,8.54,9.49,10.45,11.40,
    3.05,4.00,4.96,5.91,6.86,7.82,8.77,9.73,10.68,11.64,
    2.69,3.64,4.60,5.55,6.51,7.46,8.42,9.37,10.33,11.28,
    2.93,3.88,4.84,5.79,6.74,7.70,8.65,9.61,10.56,11.52,
    3.16,4.12,5.07,6.03,6.98,7.94,8.89,9.84,10.80,11.75,
    2.52,3.47,4.43,5.38,6.34,7.29,8.25,9.20,10.15,11.11,
    2.76,3.71,4.66,5.62,6.57,7.53,8.48,9.44,10.39,11.35,
    2.99,3.95,4.90,5.86,6.81,7.76,8.72,9.67,10.63,11.58,
    2.64,3.59,4.55,5.50,6.46,7.41,8.37,9.32,10.27,11.23,
    2.87,3.83,4.78,5.74,6.69,7.65,8.60,9.55,10.51,11.46,
    3.11,4.06,5.02,5.97,6.93,7.88,8.83,9.79,10.74,11.70,
    2.55,3.50,4.46,5.41,6.37,7.32,8.28,9.23,10.18,11.14,
    2.79,3.74,4.69,5.65,6.60,7.56,8.51,9.47,10.42,11.37,
    3.02,3.98,4.93,5.89,6.84,7.79,8.75,9.70,10.66,11.61,
]
elec_band_y = [
    .86,.94,.78,1.01,.88,.96,1.05,.83,.99,.90,
    .72,.81,.97,.85,1.03,.79,.92,1.06,.87,.95,
    .91,.68,.87,.93,.76,1.04,.86,.95,1.02,.81,
    .79,.90,.71,.97,.92,.84,1.08,.78,.93,1.00,
    .95,.76,.93,.80,1.00,.91,.80,.99,.85,.88,
    .68,.88,.83,.90,.85,.99,.94,.89,1.06,.96,
    .83,.97,.75,1.05,.79,.87,1.01,.82,.91,.78,
    .90,.72,.99,.86,.95,.77,.89,1.03,.80,1.02,
    .75,.85,.89,.74,1.02,.93,.97,.88,.98,.86,
    .93,.80,.73,.95,.83,1.06,.82,.94,.89,.92,
    .70,.92,.96,.88,.91,.81,1.04,.77,1.01,.84,
    .88,.66,.81,1.00,.78,.95,.90,1.00,.86,.98,
    .81,.89,.94,.77,.98,.89,.85,.92,.95,.79,
    .97,.78,.86,.92,.87,1.02,.96,.86,.83,1.04,
    .74,.93,.79,.83,.94,.85,.99,.97,1.05,.87,
]

# more points from the CDD part of the electricity cloud (x -4..0)
elec_cdd_x = [
    -3.92,-3.47,-3.03,-2.58,-2.14,-1.69,-1.25,-0.81,-0.36,-0.08,
    -3.81,-3.36,-2.92,-2.47,-2.03,-1.58,-1.14,-0.70,-0.25,-3.25,
    -3.70,-2.81,-2.36,-1.92,-1.47,-1.03,-0.59,-0.14,-3.58,-2.69,
    -3.14,-2.25,-1.81,-1.36,-0.92,-0.47,-3.98,-2.64,-1.75,-0.31,
    -3.53,-3.09,-2.20,-1.31,-0.86,-0.42,-3.75,-2.97,-2.42,-1.53,
    -3.64,-3.19,-2.75,-2.31,-1.86,-1.42,-0.97,-0.53,-0.19,-1.08,
]
elec_cdd_y = [
    .72,.80,.65,.85,.60,.77,.68,.83,.58,.74,
    .63,.86,.70,.59,.81,.73,.88,.62,.79,.67,
    .84,.57,.76,.69,.82,.64,.87,.71,.61,.78,
    .66,.83,.56,.75,.61,.85,.70,.80,.64,.72,
    .78,.62,.87,.67,.74,.59,.82,.69,.76,.84,
    .58,.75,.81,.63,.86,.70,.57,.79,.66,.73,
]

x_ticks = [-5, 0, 5, 10, 15, 20]
x_tick_labels = ["-5.0", "0.0", "5.0", "10.0", "15.0", "20.0"]
gas_ticks = [0.0, 0.4, 0.8, 1.2, 1.6, 2.0, 2.4, 2.8, 3.2]
gas_tick_labels = ["0.0", "0.4", "0.8", "1.2", "1.6", "2.0", "2.4", "2.8", "3.2"]
elec_ticks = [0.0, 0.2, 0.4, 0.6, 0.8, 1.0, 1.2]
elec_tick_labels = ["0.0", "0.2", "0.4", "0.6", "0.8", "1.0", "1.2"]

def paired(xs, ys, name):
    if len(xs) != len(ys):
        print("length mismatch", name, len(xs), len(ys), file=sys.stderr)
    n = min(len(xs), len(ys))
    return list(xs[:n]), list(ys[:n])

gx, gy = paired(gas_x, gas_y, "gas")
gcx, gcy = paired(gas_core_x, gas_core_y, "gas_core")
gbx, gby = paired(gas_band_x, gas_band_y, "gas_band")
ex, ey = paired(elec_x, elec_y, "elec")
ecx, ecy = paired(elec_core_x, elec_core_y, "elec_core")
ebx, eby = paired(elec_band_x, elec_band_y, "elec_band")
edx, edy = paired(elec_cdd_x, elec_cdd_y, "elec_cdd")

W, H = 508, 930
SERIF = "Liberation Serif"
fig = plt.figure(figsize=(W / 100, H / 100), dpi=100)

def px_axes(l, t, r, b):
    return [l / W, 1 - b / H, (r - l) / W, (b - t) / H]

ax1 = fig.add_axes(px_axes(59, 9, 508, 408))
ax2 = fig.add_axes(px_axes(63.3, 492.7, 508, 875))

def style(ax, yt, ytl, xlen, xpad):
    for side in ["top", "left", "bottom"]:
        ax.spines[side].set_linewidth(1.5)
    ax.spines["right"].set_visible(False)
    ax.set_xticks(x_ticks, x_tick_labels, fontsize=10, fontweight="bold", family=SERIF)
    ax.set_yticks(yt, ytl, fontsize=10, fontweight="bold", family=SERIF)
    ax.tick_params(axis="x", direction="out", length=xlen, width=1.0, pad=xpad)
    ax.tick_params(axis="y", direction="out", length=6.5, width=1.0, pad=1.5)
    ax.axvline(0, color="black", lw=1.5, zorder=1)

# top panel
ax1.scatter(gx + gcx + gbx, gy + gcy + gby, s=13, c="black", linewidths=0, zorder=2)
ax1.set_xlim(-7.48, 21.13)
ax1.set_ylim(-0.169, 3.38)
style(ax1, gas_ticks, gas_tick_labels, 6.2, 6.3)
ax1.text(-3.575, 2.72, "CDD", fontsize=21, family=SERIF, ha="center", va="baseline")
ax1.text(4.15, 2.72, "HDD", fontsize=21, family=SERIF, ha="center", va="baseline")

# bottom panel
ax2.scatter(ex + ecx + ebx + edx, ey + ecy + eby + edy, s=22, c="black", linewidths=0, zorder=2)
ax2.set_xlim(-6.35, 20.71)
ax2.set_ylim(-0.064, 1.268)
style(ax2, elec_ticks, elec_tick_labels, 7.0, 5.3)
ax2.text(-2.87, 0.187, "CDD", fontsize=21, family=SERIF, ha="center", va="baseline")
ax2.text(4.52, 0.187, "HDD", fontsize=21, family=SERIF, ha="center", va="baseline")

# axis titles
fig.text(283.5 / W, 1 - 459 / H, "Degree days", fontsize=11, fontweight="bold",
         family=SERIF, ha="center", va="baseline")
fig.text(289 / W, 1 - 925.5 / H, "Degree days", fontsize=11, fontweight="bold",
         family=SERIF, ha="center", va="baseline")
fig.text(19.5 / W, 1 - 207 / H, "Gas sale per Captia(CM3)", fontsize=13, fontweight="bold",
         family=SERIF, rotation=90, ha="center", va="center")
fig.text(23.5 / W, 1 - 683 / H, "Electricity Demand Per Capita (KWh)", fontsize=12.3,
         fontweight="bold", family="Liberation Mono", rotation=90, ha="center", va="center")

fig.savefig("out.png", dpi=100)
